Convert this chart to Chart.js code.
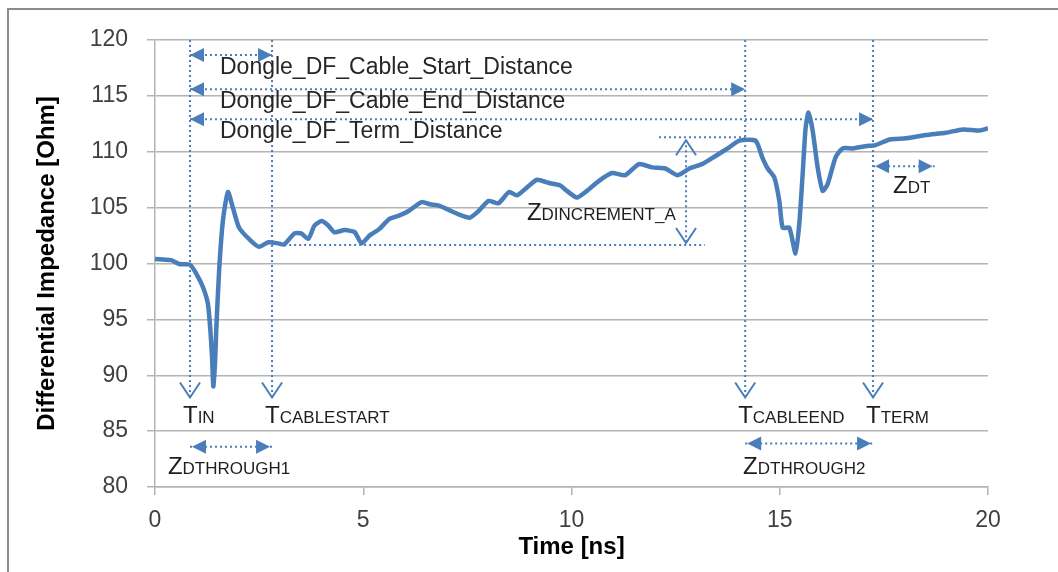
<!DOCTYPE html>
<html>
<head>
<meta charset="utf-8">
<title>Differential Impedance</title>
<script src="https://cdn.jsdelivr.net/npm/chart.js@4.4.0/dist/chart.umd.min.js"></script>
<style>
  html, body { margin: 0; padding: 0; background: #fff; }
  #wrap { width: 1058px; height: 572px; }
</style>
</head>
<body>
<div id="wrap"><canvas id="tdr" width="1058" height="572"></canvas></div>
<script>
const timeNs = [0, 0.2, 0.39, 0.58, 0.84, 0.99, 1.15, 1.27, 1.33, 1.37, 1.40, 1.44, 1.47, 1.54, 1.63, 1.75, 1.87, 2.02,
  2.31, 2.5, 2.72, 2.96, 3.1, 3.35, 3.51, 3.68, 3.83, 4.0, 4.16, 4.31, 4.55, 4.72, 4.8, 4.96, 5.15, 5.39, 5.63, 5.87,
  6.09, 6.4, 6.6, 6.8, 7.05, 7.29, 7.56, 7.77, 8.01, 8.25, 8.5, 8.69, 8.93, 9.17, 9.46, 9.72, 9.89, 10.13, 10.37,
  10.66, 10.97, 11.29, 11.62, 11.94, 12.25, 12.54, 12.83, 13.14, 13.45, 13.79, 14.03, 14.42, 14.58, 14.71, 14.87,
  14.99, 15.07, 15.23, 15.38, 15.47, 15.55, 15.62, 15.69, 15.79, 15.91, 16.03, 16.15, 16.34, 16.51, 16.75, 17.06,
  17.3, 17.64, 18.03, 18.51, 18.99, 19.4, 19.8, 20.0];
const impedance = [100.4, 100.35, 100.3, 99.95, 99.9, 99.1, 97.9, 96.4, 94.0, 91.6, 89.0, 91.0, 94.0, 99.4, 103.8,
  106.4, 105.0, 103.2, 102.0, 101.5, 101.9, 101.8, 101.7, 102.7, 102.7, 102.2, 103.4, 103.8, 103.4, 102.8, 103.0,
  102.9, 102.8, 101.8, 102.5, 103.1, 104.0, 104.3, 104.7, 105.5, 105.3, 105.2, 104.8, 104.4, 104.1, 104.7, 105.6,
  105.4, 106.4, 106.1, 106.8, 107.5, 107.2, 107.0, 106.5, 105.9, 106.5, 107.4, 108.1, 107.9, 108.9, 108.6, 108.5,
  107.9, 108.5, 108.9, 109.6, 110.4, 111.0, 111.0, 109.5, 108.5, 107.7, 105.6, 103.2, 103.2, 100.9, 103.6, 108.0,
  112.1, 113.5, 111.9, 108.6, 106.5, 107.1, 109.5, 110.3, 110.3, 110.5, 110.6, 111.1, 111.2, 111.5, 111.7, 112.0,
  111.9, 112.1];

const xTicks = [0, 5, 10, 15, 20];
const yTicks = [80, 85, 90, 95, 100, 105, 110, 115, 120];

// annotation markers (time in ns, impedance in Ohm)
const markerTimes = [0.84, 2.81, 14.17, 17.24];
const markerNames = [['T', 'IN'], ['T', 'CABLESTART'], ['T', 'CABLEEND'], ['T', 'TERM']];
const markerEnd = 88.1;
const markerLabelY = 85.7;

const distanceNames = ['Dongle_DF_Cable_Start_Distance', 'Dongle_DF_Cable_End_Distance', 'Dongle_DF_Term_Distance'];
const distanceLevels = [118.65, 115.6, 112.9];
const distanceEnds = [2.81, 14.17, 17.24];

// [main, subscript, x, y] for the Z labels; arrows as [from, to, level]
const zLabels = [
  ['Z', 'DTHROUGH1', 0.31, 81.16],
  ['Z', 'DTHROUGH2', 14.12, 81.16],
  ['Z', 'DT', 17.72, 106.3],
  ['Z', 'DINCREMENT_A', 8.93, 103.9]
];
const zArrows = [[0.84, 2.81, 83.6], [14.17, 17.24, 83.9], [17.24, 18.72, 108.7]];
const incrementTime = 12.75;
const incrementTop = 111.3;
const incrementBottom = 101.65;
const incrementTopLine = [12.1, 14.17];
const incrementBottomLine = [3.1, 13.2];

const blue = '#4a7ebb';
const grey = '#b4b4b4';
const font = '"Liberation Sans", Arial, sans-serif';

function dotted(ctx, x1, y1, x2, y2) {
  ctx.save();
  ctx.strokeStyle = blue;
  ctx.lineWidth = 2;
  ctx.setLineDash([2, 3]);
  ctx.beginPath();
  ctx.moveTo(x1, y1);
  ctx.lineTo(x2, y2);
  ctx.stroke();
  ctx.restore();
}

function head(ctx, x, y, dir) {
  ctx.fillStyle = blue;
  ctx.beginPath();
  ctx.moveTo(x, y);
  ctx.lineTo(x - dir * 14, y - 7);
  ctx.lineTo(x - dir * 14, y + 7);
  ctx.closePath();
  ctx.fill();
}

function chevron(ctx, x, y, dir) {
  ctx.save();
  ctx.strokeStyle = blue;
  ctx.lineWidth = 2;
  ctx.beginPath();
  ctx.moveTo(x - 10, y - dir * 15);
  ctx.lineTo(x, y);
  ctx.lineTo(x + 10, y - dir * 15);
  ctx.stroke();
  ctx.restore();
}

function subText(ctx, main, sub, px, py) {
  ctx.fillStyle = '#1e1e1e';
  ctx.textBaseline = 'alphabetic';
  ctx.textAlign = 'left';
  ctx.font = '24px ' + font;
  ctx.fillText(main, px, py);
  const w = ctx.measureText(main).width;
  ctx.font = '17px ' + font;
  ctx.fillText(sub, px + w, py);
}

const framePlugin = {
  id: 'frame',
  beforeDraw(chart) {
    const ctx = chart.ctx;
    ctx.save();
    ctx.fillStyle = '#fff';
    ctx.fillRect(0, 0, chart.width, chart.height);
    ctx.strokeStyle = '#8c8c8c';
    ctx.lineWidth = 2;
    ctx.beginPath();
    ctx.moveTo(8, chart.height);
    ctx.lineTo(8, 9);
    ctx.lineTo(chart.width, 9);
    ctx.stroke();
    ctx.restore();
  }
};

const notesPlugin = {
  id: 'tdrNotes',
  afterDatasetsDraw(chart) {
    const ctx = chart.ctx;
    const x = chart.scales.x, y = chart.scales.y;
    const top = chart.chartArea.top;
    ctx.save();

    // vertical markers
    markerTimes.forEach((t, i) => {
      const px = x.getPixelForValue(t);
      const bottom = y.getPixelForValue(markerEnd);
      dotted(ctx, px, top, px, bottom);
      chevron(ctx, px, bottom + 1, 1);
      subText(ctx, markerNames[i][0], markerNames[i][1], px - 7, y.getPixelForValue(markerLabelY));
    });

    // distance arrows
    distanceNames.forEach((name, i) => {
      const x1 = x.getPixelForValue(markerTimes[0]);
      const x2 = x.getPixelForValue(distanceEnds[i]);
      const py = y.getPixelForValue(distanceLevels[i]);
      dotted(ctx, x1, py, x2, py);
      head(ctx, x1, py, -1);
      head(ctx, x2, py, 1);
      ctx.fillStyle = '#262626';
      ctx.font = '23px ' + font;
      ctx.textBaseline = 'alphabetic';
      ctx.textAlign = 'left';
      ctx.fillText(name, x1 + 30, py + 19);
    });

    // Z arrows
    zArrows.forEach(a => {
      const x1 = x.getPixelForValue(a[0]);
      const x2 = x.getPixelForValue(a[1]);
      const py = y.getPixelForValue(a[2]);
      dotted(ctx, x1, py, x2, py);
      head(ctx, x1 + 2, py, -1);
      head(ctx, x2 - 2, py, 1);
    });

    // increment arrow
    const ix = x.getPixelForValue(incrementTime);
    const iTop = y.getPixelForValue(incrementTop);
    const iBot = y.getPixelForValue(incrementBottom);
    dotted(ctx, x.getPixelForValue(incrementTopLine[0]), iTop, x.getPixelForValue(incrementTopLine[1]), iTop);
    dotted(ctx, x.getPixelForValue(incrementBottomLine[0]), iBot, x.getPixelForValue(incrementBottomLine[1]), iBot);
    dotted(ctx, ix, iTop + 3, ix, iBot - 2);
    chevron(ctx, ix, iTop + 3, -1);
    chevron(ctx, ix, iBot - 2, 1);

    zLabels.forEach(l => {
      subText(ctx, l[0], l[1], x.getPixelForValue(l[2]), y.getPixelForValue(l[3]));
    });

    ctx.restore();
  }
};

new Chart(document.getElementById('tdr'), {
  type: 'line',
  data: {
    datasets: [{
      label: 'Differential Impedance',
      data: timeNs.map((t, i) => ({ x: t, y: impedance[i] })),
      borderColor: blue,
      borderWidth: 4.5,
      pointRadius: 0,
      tension: 0.2,
      fill: false
    }]
  },
  options: {
    responsive: false,
    animation: false,
    events: [],
    layout: { padding: { top: 40, right: 70, left: 0, bottom: 0 } },
    plugins: { legend: { display: false }, tooltip: { enabled: false } },
    scales: {
      x: {
        type: 'linear',
        min: 0,
        max: 20,
        afterFit: s => { s.height = 85; },
        afterBuildTicks: s => { s.ticks = xTicks.map(v => ({ value: v })); },
        grid: { drawOnChartArea: false, drawTicks: true, tickLength: 8, color: grey, lineWidth: 1.5 },
        border: { color: grey, width: 1.5 },
        ticks: { color: '#404040', font: { family: font, size: 23 }, padding: 12, maxRotation: 0 },
        title: { display: true, text: 'Time [ns]', color: '#000', font: { family: font, size: 24, weight: 'bold' }, padding: { top: 0, bottom: 10 } }
      },
      y: {
        min: 80,
        max: 120,
        afterFit: s => { s.width = 155; },
        afterBuildTicks: s => { s.ticks = yTicks.map(v => ({ value: v })); },
        grid: { color: grey, lineWidth: 1.5, tickLength: 8 },
        border: { color: grey, width: 1.5 },
        ticks: { color: '#404040', font: { family: font, size: 23 }, padding: 19 },
        title: { display: true, text: 'Differential Impedance [Ohm]', color: '#000', font: { family: font, size: 24, weight: 'bold' }, padding: { top: 33, bottom: 0 } }
      }
    }
  },
  plugins: [framePlugin, notesPlugin]
});
</script>
</body>
</html>
